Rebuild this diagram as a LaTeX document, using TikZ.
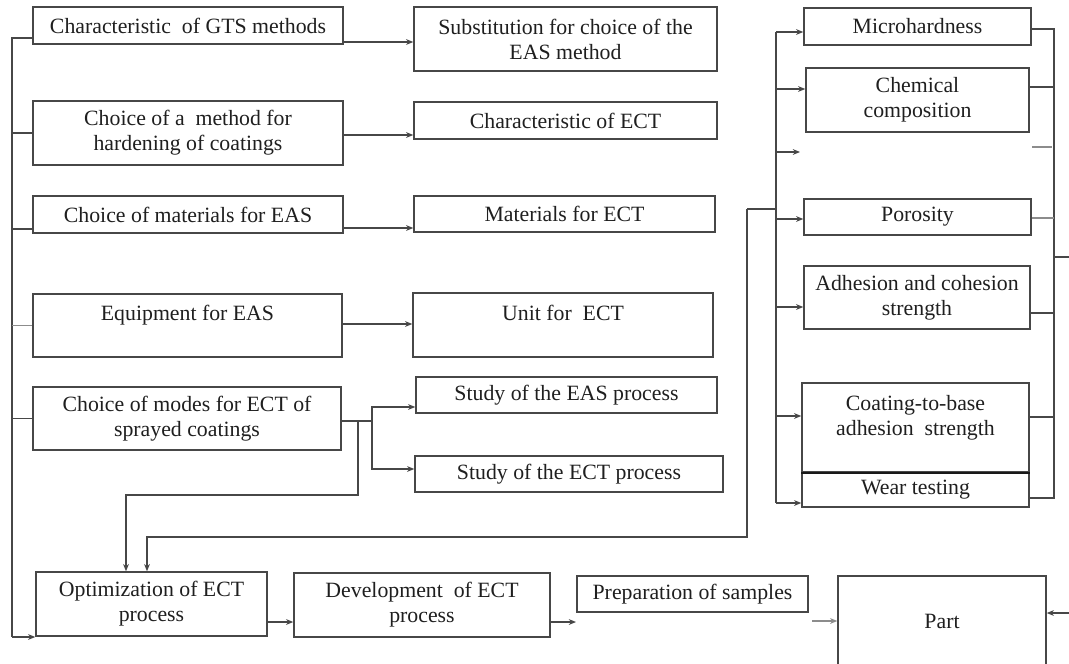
\documentclass[tikz,border=0pt]{standalone}
\usepackage{fontspec}
\setmainfont{Liberation Serif}
\usetikzlibrary{arrows.meta}
\begin{document}
\begin{tikzpicture}[x=0.5pt,y=-0.5pt,
  box/.style={draw=black!72, line width=0.75pt, inner sep=0pt, align=center,
    font=\fontsize{10.9}{12.5}\selectfont, text=black!88},
  ln/.style={draw=black!72, line width=0.7pt},
  lnl/.style={draw=black!45, line width=0.7pt},
  arr/.style={ln, -{Stealth[length=3.6pt,width=2.9pt]}}
]
\useasboundingbox (0,0) rectangle (1069,663);
\clip (0,0) rectangle (1069,663);
\fill[white] (0,0) rectangle (1069,663);

% left column
\node[box,minimum width=155pt,minimum height=18.5pt] (gts) at (188,25.5) {Characteristic\ \ of GTS methods};
\node[box,minimum width=155pt,minimum height=32pt] (hard) at (188,133) {Choice of a\ \ method for\\hardening of coatings};
\node[box,minimum width=155pt,minimum height=18.5pt] (mateas) at (188,214.5) {Choice of materials for EAS};
\node[box,minimum width=154.5pt,minimum height=31.5pt] (equip) at (187.5,325.5) {Equipment for EAS\\\mbox{}};
\node[box,minimum width=154pt,minimum height=31.5pt] (modes) at (187,418.5) {Choice of modes for ECT of\\sprayed coatings};
% middle column
\node[box,minimum width=151.5pt,minimum height=32pt] (subst) at (565.5,39) {Substitution for choice of the\\EAS method};
\node[box,minimum width=151.5pt,minimum height=18.5pt] (charect) at (565.5,120.5) {Characteristic of ECT};
\node[box,minimum width=150.5pt,minimum height=18pt] (matect) at (564.5,214) {Materials for ECT};
\node[box,minimum width=150pt,minimum height=32pt] (unit) at (563,325) {Unit for\ \ ECT\\\mbox{}};
\node[box,minimum width=150.5pt,minimum height=18pt] (seas) at (566.5,395) {Study of the EAS process};
\node[box,minimum width=154pt,minimum height=18pt] (sect) at (569,474) {Study of the ECT process};
% bottom row
\node[box,minimum width=115.5pt,minimum height=32pt] (optim) at (151.5,604) {Optimization of ECT\\process};
\node[box,minimum width=128pt,minimum height=32pt] (devel) at (422,605) {Development\ \ of ECT\\process};
\node[box,minimum width=115.5pt,minimum height=18pt] (prep) at (692.5,594) {Preparation of samples};
\node[box,minimum width=104pt,minimum height=45pt] (part) at (942,621) {Part};
% right column
\node[box,minimum width=113.5pt,minimum height=18.5pt] (micro) at (917.5,26.5) {Microhardness};
\node[box,minimum width=111.5pt,minimum height=32pt] (chem) at (917.5,100) {Chemical\\composition};
\node[box,minimum width=113.5pt,minimum height=18pt] (poro) at (917.5,217) {Porosity};
\node[box,minimum width=113pt,minimum height=31.5pt] (adh) at (917,297.5) {Adhesion and cohesion\\strength};
\node[box,minimum width=113.5pt,minimum height=44.5pt] (coat) at (915.5,427.5) {Coating-to-base\\adhesion\ \ strength\\\mbox{}};
\node[box,minimum width=113.5pt,minimum height=17.5pt] (wear) at (915.5,489.5) {Wear testing};
\draw[black!90, line width=1pt] (coat.south west) -- (coat.south east);

% left bus
\coordinate (lt) at (12,38);
\coordinate (lb) at (12,637);
\coordinate (lm) at (12,229);
\draw[ln] (gts.west |- lt) -- (lt) -- (lb);
\draw[arr] (lb) -- (optim.west |- lb);
\draw[ln] (lt |- hard.west) -- (hard.west);
\draw[ln] (lm) -- (mateas.west |- lm);
\draw[lnl] (lt |- equip.west) -- (equip.west);
\draw[ln] (lt |- modes.west) -- (modes.west);

% left to middle arrows
\coordinate (y1) at (0,42);
\coordinate (y2) at (0,135);
\coordinate (y3) at (0,228);
\coordinate (y4) at (0,324);
\draw[arr] (gts.east |- y1) -- (subst.west |- y1);
\draw[arr] (hard.east |- y2) -- (charect.west |- y2);
\draw[arr] (mateas.east |- y3) -- (matect.west |- y3);
\draw[arr] (equip.east |- y4) -- (unit.west |- y4);

% fork from modes
\coordinate (fk) at (372,421);
\coordinate (fa) at (0,407);
\coordinate (fb) at (0,469);
\draw[ln] (modes.east |- fk) -- (fk);
\draw[arr] (fk) |- (seas.west |- fa);
\draw[arr] (fk) |- (sect.west |- fb);
\coordinate (dn) at (358,421);
\coordinate (dn2) at (126,495);
\draw[arr] (dn) |- (dn2) -- (dn2 |- optim.north);

% feedback from right
\coordinate (fb1) at (747,209);
\coordinate (fb2) at (147,537);
\draw[arr] (fb1) |- (fb2) -- (fb2 |- optim.north);

% right input bus
\coordinate (ri) at (776,32);
\coordinate (rib) at (776,503);
\draw[ln] (ri) -- (rib);
\draw[ln] (fb1) -- (ri |- fb1);
\coordinate (ry2) at (776,89);
\coordinate (ry3) at (776,152);
\coordinate (ee) at (800,152);
\coordinate (ry4) at (776,219);
\coordinate (ry5) at (776,307);
\coordinate (ry6) at (776,416);
\draw[arr] (ri) -- (micro.west |- ri);
\draw[arr] (ry2) -- (chem.west |- ry2);
\draw[arr] (ry3) -- (ee);
\draw[arr] (ry4) -- (poro.west |- ry4);
\draw[arr] (ry5) -- (adh.west |- ry5);
\draw[arr] (ry6) -- (coat.west |- ry6);
\draw[arr] (rib) -- (wear.west |- rib);

% right output bus
\coordinate (ro) at (1054,29);
\coordinate (rob) at (1054,498);
\draw[ln] (micro.east |- ro) -- (ro) -- (rob) -- (wear.east |- rob);
\coordinate (oy2) at (1054,87);
\coordinate (oy4) at (1054,218);
\coordinate (oy5) at (1054,313);
\coordinate (oy6) at (1054,417);
\draw[ln] (chem.east |- oy2) -- (oy2);
\draw[lnl] (poro.east |- oy4) -- (oy4);
\draw[ln] (adh.east |- oy5) -- (oy5);
\draw[ln] (coat.east |- oy6) -- (oy6);
\coordinate (st1) at (1032,147);
\coordinate (st2) at (1052,147);
\draw[lnl] (st1) -- (st2);
\coordinate (ex0) at (1054,257);
\coordinate (ex) at (1069,257);
\draw[ln] (ex0) -- (ex);
\coordinate (pr) at (1069,613);
\draw[arr] (pr) -- (part.east |- pr);

% bottom row arrows
\coordinate (by) at (0,622);
\coordinate (dv) at (576,622);
\coordinate (ps) at (812,621);
\draw[arr] (optim.east |- by) -- (devel.west |- by);
\draw[arr] (devel.east |- dv) -- (dv);
\draw[arr, lnl] (ps) -- (part.west |- ps);
\end{tikzpicture}
\end{document}
